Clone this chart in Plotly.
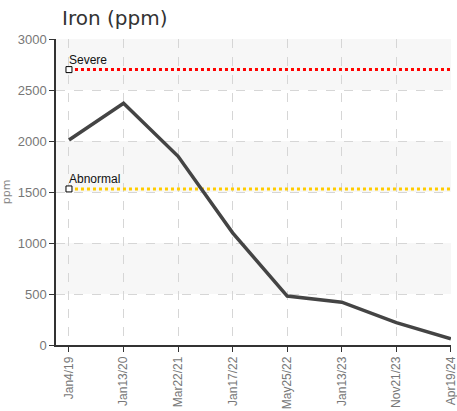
import plotly.graph_objects as go

categories = ["Jan4/19", "Jan13/20", "Mar22/21", "Jan17/22", "May25/22", "Jan13/23", "Nov21/23", "Apr19/24"]
iron_ppm = [2010, 2370, 1850, 1100, 480, 420, 220, 60]
severe_limit = 2700
abnormal_limit = 1530
y_ticks = [0, 500, 1000, 1500, 2000, 2500, 3000]

xs = list(range(len(categories)))
narrow = "Liberation Sans Narrow, Arial Narrow, Liberation Sans, sans-serif"

fig = go.Figure()

for val, col in [(severe_limit, "#ff0000"), (abnormal_limit, "#ffcc00")]:
    fig.add_trace(go.Scatter(x=[xs[0], xs[-1]], y=[val, val], mode="lines",
                             line=dict(color=col, width=3, dash="dot"),
                             hoverinfo="skip", showlegend=False))

fig.add_trace(go.Scatter(x=xs, y=iron_ppm, mode="lines",
                         line=dict(color="#444444", width=3.5),
                         showlegend=False))

for val, name in [(severe_limit, "Severe"), (abnormal_limit, "Abnormal")]:
    fig.add_trace(go.Scatter(x=[xs[0]], y=[val], mode="markers",
                             marker=dict(symbol="square", size=6, color="white",
                                         line=dict(color="#000000", width=1)),
                             hoverinfo="skip", showlegend=False))
    fig.add_annotation(x=xs[0], y=val, text=name, showarrow=False,
                       xanchor="left", yanchor="bottom", xshift=-2, yshift=1,
                       font=dict(family=narrow, size=12, color="#111111"))

shapes = []
for i in range(len(y_ticks) - 1):
    if i % 2 == 1:
        shapes.append(dict(type="rect", xref="paper", yref="y", x0=0, x1=1,
                           y0=y_ticks[i], y1=y_ticks[i + 1],
                           fillcolor="#f7f7f7", line=dict(width=0), layer="below"))

fig.update_layout(
    width=457, height=411,
    margin=dict(l=56, r=6, t=39, b=66),
    paper_bgcolor="white", plot_bgcolor="white",
    shapes=shapes,
    title=dict(text="Iron (ppm)", x=62 / 457, xanchor="left", y=1 - 18 / 411, yanchor="middle",
               font=dict(family="DejaVu Sans", size=20, color="#333333")),
    xaxis=dict(range=[-0.238, 7.002], tickmode="array", tickvals=xs, ticktext=categories,
               tickangle=-90, showgrid=True, gridcolor="#d6d6d6", griddash="dash", gridwidth=1,
               showline=True, linecolor="#333333", linewidth=1.5, automargin=False,
               ticklabeloverflow="allow",
               ticks="outside", ticklen=5, tickcolor="#333333",
               tickfont=dict(family=narrow, size=12, color="#777777"), zeroline=False),
    yaxis=dict(range=[0, 3000], tickmode="array", tickvals=y_ticks, automargin=False,
               showgrid=True, gridcolor="#d6d6d6", griddash="dash", gridwidth=1,
               showline=True, linecolor="#333333", linewidth=1.5,
               ticks="outside", ticklen=5, tickcolor="#333333",
               tickfont=dict(family=narrow, size=13, color="#777777"), zeroline=False,
               title=dict(text="ppm", standoff=6, font=dict(family="DejaVu Sans", size=11, color="#888888"))),
)

fig.write_html("out.html", config={"displayModeBar": False},
               post_script="document.body.style.margin='0';document.body.style.padding='0';document.body.style.overflow='hidden';")
